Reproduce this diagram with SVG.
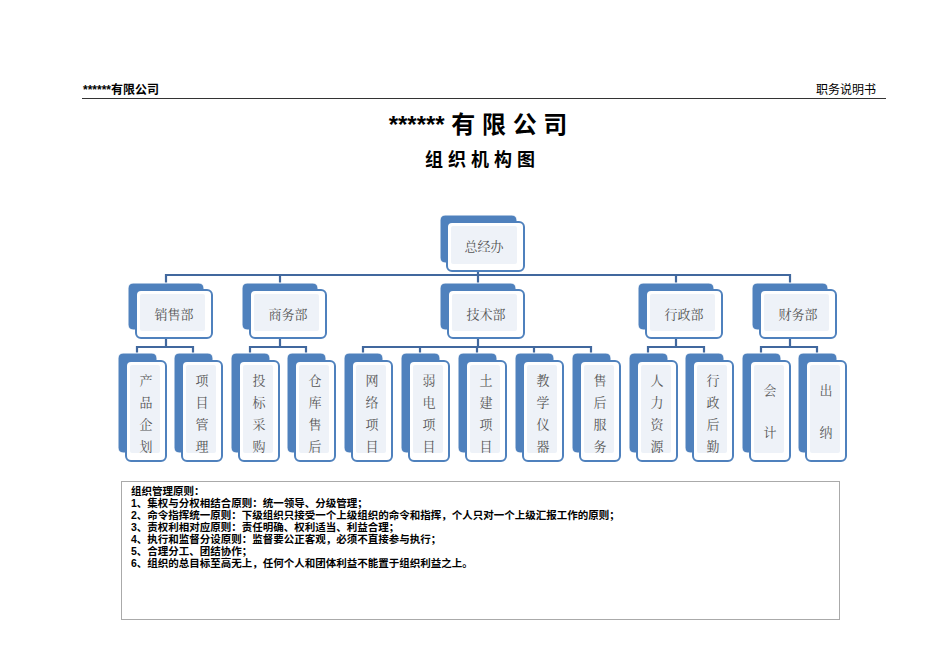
<svg xmlns="http://www.w3.org/2000/svg" width="950" height="672" viewBox="0 0 950 672">
<style>
.bk{fill:#4f81bd;stroke:#ffffff;stroke-width:1}
.fr{fill:#ffffff;stroke:#4f81bd;stroke-width:2}
.in{fill:#eef2f8}
.c{stroke:#41689e;stroke-width:2.2;fill:none}
.t{font-family:"Noto Serif CJK SC","Noto Sans CJK SC",serif;font-size:13px;fill:#555;text-anchor:middle}
.h{font-family:"Liberation Sans","Noto Sans CJK SC",sans-serif;fill:#000}
.p{font-family:"Liberation Sans","Noto Sans CJK SC",sans-serif;font-size:10.5px;fill:#000;font-weight:bold}
</style>
<rect width="950" height="672" fill="#fff"/>
<text class="h" x="83" y="94" font-size="12" font-weight="bold">******有限公司</text>
<text class="h" x="876" y="94" font-size="12" text-anchor="end">职务说明书</text>
<line x1="82" y1="98.5" x2="886" y2="98.5" stroke="#333" stroke-width="1.2"/>
<text class="h" x="478" y="133" font-size="24" font-weight="bold" text-anchor="middle">****** 有 限 公 司</text>
<text class="h" x="480" y="166" font-size="18" font-weight="bold" text-anchor="middle">组 织 机 构 图</text>
<g id="connectors" class="c">
<path d="M478 262V275M166 283V275H790V283M280 275V283M478 275V283M676 275V283"/>
<path d="M166 330V347M137 353V347H193V353"/>
<path d="M280 330V347M250 353V347H306V353"/>
<path d="M478 330V347M363 353V347H591V353M420 347V353M477 347V353M534 347V353"/>
<path d="M676 330V347M648 353V347H704V353"/>
<path d="M790 330V347M761 353V347H817V353"/>
</g>
<g id="n-top"><rect class="bk" x="440" y="215" width="77" height="48" rx="5"/><rect class="fr" x="447" y="222" width="77" height="49" rx="5"/><rect class="in" x="451" y="226" width="66" height="38" rx="2"/><text class="t" x="484" y="251">总经办</text></g>
<g id="n-xs"><rect class="bk" x="128" y="283" width="76" height="47" rx="5"/><rect class="fr" x="136" y="290" width="76" height="48" rx="5"/><rect class="in" x="140" y="294" width="65" height="37" rx="2"/><text class="t" x="174" y="319">销售部</text></g>
<g id="n-sw"><rect class="bk" x="242" y="283" width="76" height="47" rx="5"/><rect class="fr" x="250" y="290" width="76" height="48" rx="5"/><rect class="in" x="254" y="294" width="65" height="37" rx="2"/><text class="t" x="288" y="319">商务部</text></g>
<g id="n-js"><rect class="bk" x="440" y="283" width="76" height="47" rx="5"/><rect class="fr" x="448" y="290" width="76" height="48" rx="5"/><rect class="in" x="452" y="294" width="65" height="37" rx="2"/><text class="t" x="486" y="319">技术部</text></g>
<g id="n-xz"><rect class="bk" x="638" y="283" width="76" height="47" rx="5"/><rect class="fr" x="646" y="290" width="76" height="48" rx="5"/><rect class="in" x="650" y="294" width="65" height="37" rx="2"/><text class="t" x="684" y="319">行政部</text></g>
<g id="n-cw"><rect class="bk" x="752" y="283" width="76" height="47" rx="5"/><rect class="fr" x="760" y="290" width="76" height="48" rx="5"/><rect class="in" x="764" y="294" width="65" height="37" rx="2"/><text class="t" x="798" y="319">财务部</text></g>
<defs>
<g id="leaf"><rect class="bk" x="0" y="0" width="39" height="100" rx="5"/><rect class="fr" x="8" y="8" width="40" height="100" rx="5"/><rect class="in" x="12" y="12" width="30" height="88" rx="2"/></g>
</defs>
<g id="l1"><use href="#leaf" x="118" y="353"/><text class="t" x="146" y="385">产</text><text class="t" x="146" y="407">品</text><text class="t" x="146" y="429">企</text><text class="t" x="146" y="451">划</text></g>
<g id="l2"><use href="#leaf" x="174" y="353"/><text class="t" x="202" y="385">项</text><text class="t" x="202" y="407">目</text><text class="t" x="202" y="429">管</text><text class="t" x="202" y="451">理</text></g>
<g id="l3"><use href="#leaf" x="231" y="353"/><text class="t" x="259" y="385">投</text><text class="t" x="259" y="407">标</text><text class="t" x="259" y="429">采</text><text class="t" x="259" y="451">购</text></g>
<g id="l4"><use href="#leaf" x="287" y="353"/><text class="t" x="315" y="385">仓</text><text class="t" x="315" y="407">库</text><text class="t" x="315" y="429">售</text><text class="t" x="315" y="451">后</text></g>
<g id="l5"><use href="#leaf" x="344" y="353"/><text class="t" x="372" y="385">网</text><text class="t" x="372" y="407">络</text><text class="t" x="372" y="429">项</text><text class="t" x="372" y="451">目</text></g>
<g id="l6"><use href="#leaf" x="401" y="353"/><text class="t" x="429" y="385">弱</text><text class="t" x="429" y="407">电</text><text class="t" x="429" y="429">项</text><text class="t" x="429" y="451">目</text></g>
<g id="l7"><use href="#leaf" x="458" y="353"/><text class="t" x="486" y="385">土</text><text class="t" x="486" y="407">建</text><text class="t" x="486" y="429">项</text><text class="t" x="486" y="451">目</text></g>
<g id="l8"><use href="#leaf" x="515" y="353"/><text class="t" x="543" y="385">教</text><text class="t" x="543" y="407">学</text><text class="t" x="543" y="429">仪</text><text class="t" x="543" y="451">器</text></g>
<g id="l9"><use href="#leaf" x="572" y="353"/><text class="t" x="600" y="385">售</text><text class="t" x="600" y="407">后</text><text class="t" x="600" y="429">服</text><text class="t" x="600" y="451">务</text></g>
<g id="l10"><use href="#leaf" x="629" y="353"/><text class="t" x="657" y="385">人</text><text class="t" x="657" y="407">力</text><text class="t" x="657" y="429">资</text><text class="t" x="657" y="451">源</text></g>
<g id="l11"><use href="#leaf" x="685" y="353"/><text class="t" x="713" y="385">行</text><text class="t" x="713" y="407">政</text><text class="t" x="713" y="429">后</text><text class="t" x="713" y="451">勤</text></g>
<g id="l12"><use href="#leaf" x="742" y="353"/><text class="t" x="770" y="395">会</text><text class="t" x="770" y="437">计</text></g>
<g id="l13"><use href="#leaf" x="798" y="353"/><text class="t" x="826" y="395">出</text><text class="t" x="826" y="437">纳</text></g>
<g id="principles">
<rect x="121.5" y="481.5" width="718" height="138" fill="#fff" stroke="#aaa" stroke-width="1"/>
<text class="p" x="131" y="495">组织管理原则：</text>
<text class="p" x="131" y="507">1、集权与分权相结合原则：统一领导、分级管理；</text>
<text class="p" x="131" y="519">2、命令指挥统一原则：下级组织只接受一个上级组织的命令和指挥，个人只对一个上级汇报工作的原则；</text>
<text class="p" x="131" y="531" font-weight="normal">3、责权利相对应原则：责任明确、权利适当、利益合理；</text>
<text class="p" x="131" y="543" font-weight="normal">4、执行和监督分设原则：监督要公正客观，必须不直接参与执行；</text>
<text class="p" x="131" y="555" font-weight="normal">5、合理分工、团结协作；</text>
<text class="p" x="131" y="567" font-weight="normal">6、组织的总目标至高无上，任何个人和团体利益不能置于组织利益之上。</text>
</g>
</svg>
